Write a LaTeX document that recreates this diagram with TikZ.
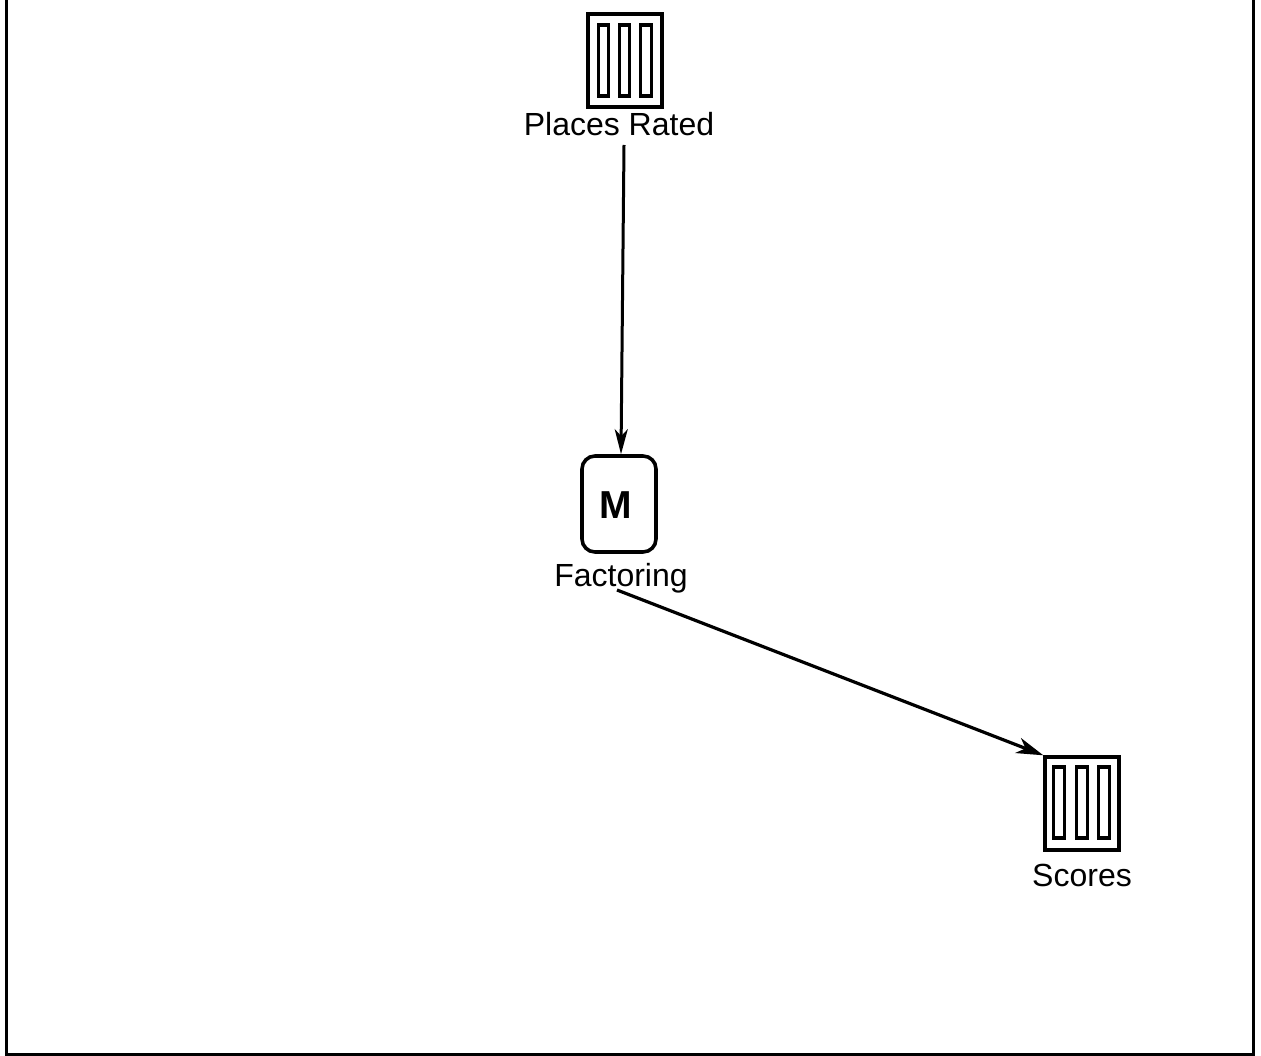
\documentclass[tikz,border=0pt]{standalone}
\usepackage{fontspec}
\setmainfont{Liberation Sans}
\usetikzlibrary{arrows.meta}
\tikzset{
  frameline/.style={line width=3pt,black},
  storebox/.style={draw,line width=3.4pt,minimum width=74pt,minimum height=93pt,inner sep=0pt},
  storebar/.style={draw,line width=3.4pt,minimum width=10.5pt,minimum height=71pt,inner sep=0pt},
  procbox/.style={draw,line width=3.6pt,rounded corners=13pt,minimum width=74pt,minimum height=96pt,inner sep=0pt},
  lbl/.style={inner sep=0pt,font=\fontsize{32}{32}\selectfont},
  mark letter/.style={inner sep=0pt,font=\fontsize{39}{39}\selectfont\bfseries},
  flow/.style={line width=3pt,black,-{Stealth[length=25pt,width=13pt,inset=7pt]}},
  flowb/.style={line width=3.2pt,black,-{Stealth[length=27pt,width=16pt,inset=8pt]}},
}
\begin{document}
\begin{tikzpicture}[x=1pt,y=-1pt]
\useasboundingbox (0,0) rectangle (1261,1056);
\fill[white] (0,0) rectangle (1261,1056);
\coordinate (tl) at (6.5,0);
\coordinate (bl) at (6.5,1054);
\coordinate (br) at (1253.5,1054);
\coordinate (tr) at (1253.5,0);
\draw[frameline,line join=miter] (tl) -- (bl) -- (br) -- (tr);

\node[storebox] (pr) at (625,60.5) {};
\node[storebar] (pr1) at (603.5,60.5) {};
\node[storebar] (pr2) at (624.5,60.5) {};
\node[storebar] (pr3) at (646,60.5) {};
\node[lbl,anchor=base] (prl) at (619,136) {Places Rated};

\node[procbox] (m) at (619,504) {};
\node[mark letter] (mt) at (616,505) {M};
\node[lbl,anchor=base] (ml) at (621,586) {Factoring};

\node[storebox] (sc) at (1082,803.5) {};
\node[storebar] (sc1) at (1059,802.5) {};
\node[storebar] (sc2) at (1082,802.5) {};
\node[storebar] (sc3) at (1104,802.5) {};
\node[lbl,anchor=base] (scl) at (1082,886) {Scores};

\coordinate (a1) at (624,145);
\coordinate (a2) at (617,590);
\draw[flow] (a1) -- ([xshift=2pt]m.north);
\draw[flowb] (a2) -- (sc.north west);
\end{tikzpicture}
\end{document}
